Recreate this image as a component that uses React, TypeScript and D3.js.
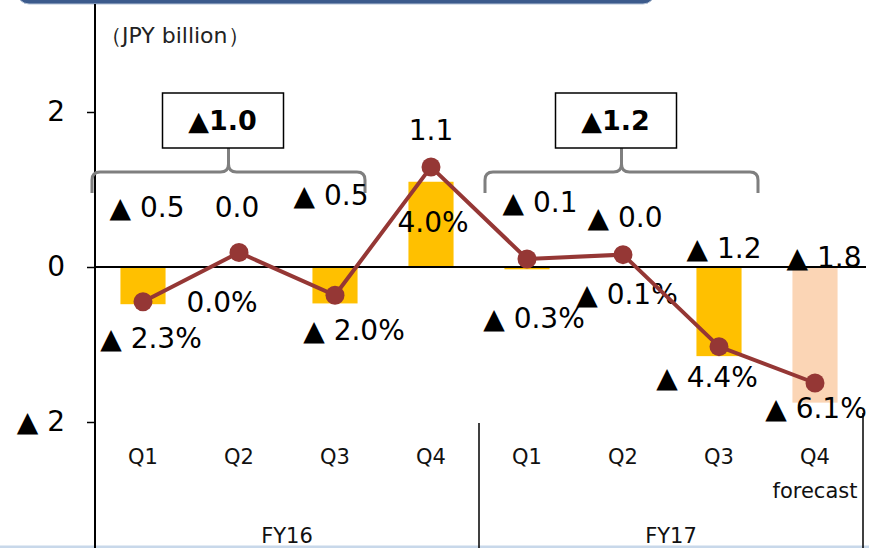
import * as d3 from 'd3';
import { useEffect, useRef } from 'react';

// quarters, two fiscal years
const keys = ['FY16Q1', 'FY16Q2', 'FY16Q3', 'FY16Q4', 'FY17Q1', 'FY17Q2', 'FY17Q3', 'FY17Q4'];
const quarters = ['Q1', 'Q2', 'Q3', 'Q4', 'Q1', 'Q2', 'Q3', 'Q4'];
const years = ['FY16', 'FY17'];
const isForecast = [false, false, false, false, false, false, false, true];

// operating profit, JPY billion (bars) and margin % (line)
const profit = [-0.48, 0.0, -0.47, 1.1, -0.03, -0.01, -1.15, -1.75];
const profitLabels = ['▲ 0.5', '0.0', '▲ 0.5', '1.1', '▲ 0.1', '▲ 0.0', '▲ 1.2', '▲ 1.8'];
const marginPct = [-2.3, 0.0, -2.0, 4.0, -0.3, -0.1, -4.4, -6.1];

// Q1-Q3 cumulative totals
const totals = ['▲1.0', '▲1.2'];
const yTicks = [-2, 0, 2];

// hand placed label offsets (like the original)
const profitDx = [4, -2, -4, 0, 13, 2, 5, 9];
const profitDy = [-60, -60, -72, -137, -65, -50, -19, -10];
const pctDx = [8, -17, 19, 2, 7, 4, -12, 1];
const pctDy = [36, 50, 35, 55, 59, 40, 31, 25];

const W = 869, H = 548;
const font = "'DejaVu Sans', Verdana, sans-serif";

function tri(v: number) {
  return v < 0 ? '▲ ' + Math.abs(v) : String(v);
}

export default function App() {
  const ref = useRef<SVGSVGElement>(null);

  useEffect(() => {
    const svg = d3.select(ref.current);
    svg.selectAll('*').remove();

    const left = 95, right = 863;
    const x = d3.scaleBand<string>().domain(keys).range([left, right]).paddingInner(0.53).paddingOuter(0.265);
    const y = d3.scaleLinear().domain([-4, 4]).range([577, -43]);
    const y2 = d3.scaleLinear().domain([-15, 15]).range([573.4, -68.4]);
    const cx = (i: number) => (x(keys[i]) as number) + x.bandwidth() / 2;
    const step = x.step();

    svg.append('rect').attr('width', W).attr('height', H).attr('fill', '#fff');

    // header strip
    svg.append('rect')
      .attr('x', 17).attr('y', -20).attr('width', 638).attr('height', 24).attr('rx', 12)
      .attr('fill', '#3c5b8c').attr('stroke', '#b4c3d8').attr('stroke-width', 1);

    // bottom light band
    svg.append('rect').attr('x', 0).attr('y', 545.5).attr('width', W).attr('height', 3).attr('fill', '#c8d8ea');

    svg.append('text')
      .attr('x', 100).attr('y', 43)
      .attr('font-family', font).attr('font-size', 22).attr('fill', '#222')
      .text('（JPY billion）');

    // bars
    svg.selectAll('.bar')
      .data(profit)
      .enter().append('rect')
      .attr('class', 'bar')
      .attr('x', (d, i) => x(keys[i]) as number)
      .attr('y', d => y(Math.max(0, d)))
      .attr('width', x.bandwidth())
      .attr('height', d => Math.abs(y(d) - y(0)))
      .attr('fill', (d, i) => isForecast[i] ? '#fbd5b5' : '#ffc000');

    // zero line
    svg.append('line')
      .attr('x1', left).attr('x2', 866).attr('y1', y(0)).attr('y2', y(0))
      .attr('stroke', '#000').attr('stroke-width', 2);

    // y axis
    const yAxis = svg.append('g')
      .attr('transform', 'translate(' + left + ',0)')
      .call(d3.axisLeft(y).tickValues(yTicks).tickSize(8).tickPadding(22).tickFormat(d => tri(d as number)));
    yAxis.select('.domain').remove();
    yAxis.selectAll('line').attr('stroke', '#000').attr('stroke-width', 1.5);
    yAxis.selectAll('text').attr('font-family', font).attr('font-size', 28).attr('fill', '#000');

    svg.append('line')
      .attr('x1', left).attr('x2', left).attr('y1', 4).attr('y2', H)
      .attr('stroke', '#000').attr('stroke-width', 2);

    // group separators
    [1, 2].forEach(g => {
      svg.append('line')
        .attr('x1', left + g * 4 * step).attr('x2', left + g * 4 * step)
        .attr('y1', g === 2 ? 413 : 423).attr('y2', H)
        .attr('stroke', '#000').attr('stroke-width', 1.5);
    });

    // category labels
    svg.selectAll('.q')
      .data(quarters)
      .enter().append('text')
      .attr('x', (d, i) => cx(i)).attr('y', 464)
      .attr('text-anchor', 'middle')
      .attr('font-family', font).attr('font-size', 21).attr('fill', '#111')
      .text(d => d);

    isForecast.forEach((f, i) => {
      if (!f) return;
      svg.append('text')
        .attr('x', cx(i)).attr('y', 498)
        .attr('text-anchor', 'middle')
        .attr('font-family', font).attr('font-size', 21).attr('fill', '#111')
        .text('forecast');
    });

    svg.selectAll('.fy')
      .data(years)
      .enter().append('text')
      .attr('x', (d, g) => left + (g * 4 + 2) * step).attr('y', 543)
      .attr('text-anchor', 'middle')
      .attr('font-family', font).attr('font-size', 21).attr('fill', '#111')
      .text(d => d);

    // braces + boxes for Q1-Q3 totals
    const braceL = [-3, 6], braceR = [-18, -9];
    totals.forEach((t, g) => {
      const x0 = left + g * 4 * step + braceL[g];
      const x1 = left + (g * 4 + 3) * step + braceR[g];
      const xm = (x0 + x1) / 2;
      const yb = 172, ye = 193, yt = 148, r = 8;
      const p = d3.path();
      p.moveTo(x0, ye);
      p.lineTo(x0, yb + r);
      p.quadraticCurveTo(x0, yb, x0 + r, yb);
      p.lineTo(xm - r, yb);
      p.quadraticCurveTo(xm, yb, xm, yb - r);
      p.lineTo(xm, yt);
      p.moveTo(xm, yb - r);
      p.quadraticCurveTo(xm, yb, xm + r, yb);
      p.lineTo(x1 - r, yb);
      p.quadraticCurveTo(x1, yb, x1, yb + r);
      p.lineTo(x1, ye);
      svg.append('path').attr('d', p.toString())
        .attr('fill', 'none').attr('stroke', '#7f7f7f').attr('stroke-width', 3);

      const bx = xm - 6;
      svg.append('rect')
        .attr('x', bx - 60).attr('y', 93).attr('width', 121).attr('height', 55)
        .attr('fill', '#fff').attr('stroke', '#000').attr('stroke-width', 1.5);
      svg.append('text')
        .attr('x', bx).attr('y', 121).attr('dy', '0.35em')
        .attr('text-anchor', 'middle')
        .attr('font-family', font).attr('font-size', 27).attr('font-weight', 'bold').attr('fill', '#000')
        .text(t);
    });

    // value labels
    svg.selectAll('.vl')
      .data(profitLabels)
      .enter().append('text')
      .attr('x', (d, i) => cx(i) + profitDx[i])
      .attr('y', (d, i) => y(0) + profitDy[i])
      .attr('dy', '0.35em')
      .attr('text-anchor', 'middle')
      .attr('font-family', font).attr('font-size', 28).attr('fill', '#000')
      .text(d => d);

    // percent labels
    svg.selectAll('.pl')
      .data(marginPct)
      .enter().append('text')
      .attr('x', (d, i) => cx(i) + pctDx[i])
      .attr('y', (d, i) => y2(d) + pctDy[i])
      .attr('dy', '0.35em')
      .attr('text-anchor', 'middle')
      .attr('font-family', font).attr('font-size', 28).attr('fill', '#000')
      .text(d => (d < 0 ? '▲ ' + Math.abs(d).toFixed(1) : d.toFixed(1)) + '%');

    // margin line
    const line = d3.line<number>()
      .x((d, i) => cx(i))
      .y(d => y2(d));
    svg.append('path')
      .datum(marginPct)
      .attr('d', line)
      .attr('fill', 'none').attr('stroke', '#953735').attr('stroke-width', 4);

    svg.selectAll('.dot')
      .data(marginPct)
      .enter().append('circle')
      .attr('cx', (d, i) => cx(i)).attr('cy', d => y2(d)).attr('r', 9.5)
      .attr('fill', '#953735');
  }, []);

  return (
    <svg ref={ref} width={W} height={H} style={{ position: 'absolute', left: 0, top: 0 }} />
  );
}
